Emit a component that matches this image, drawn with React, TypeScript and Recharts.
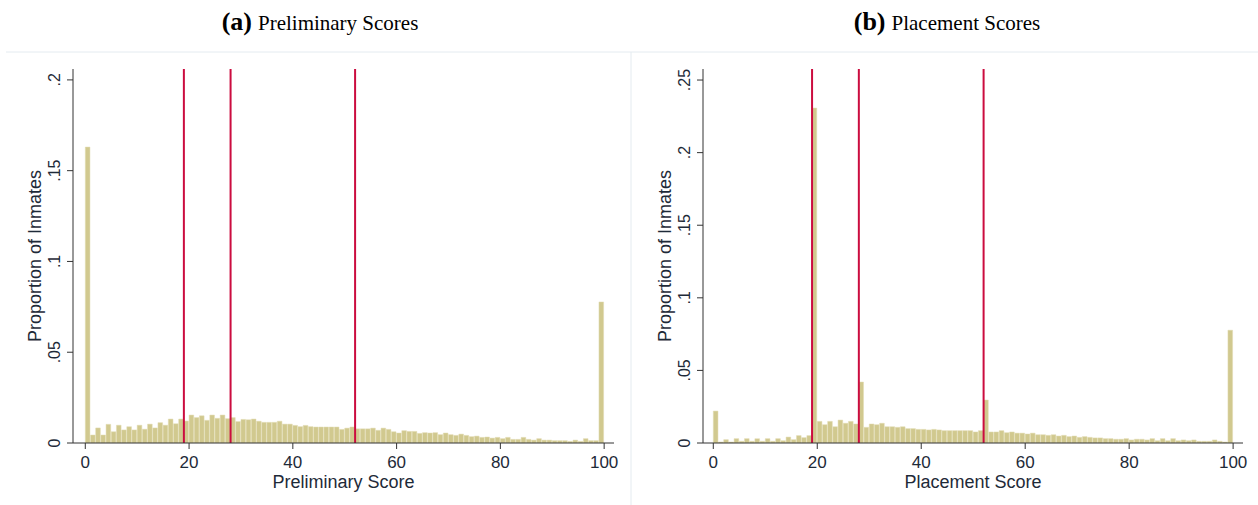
import React from 'react';
import { ComposedChart, Bar, XAxis, YAxis, ReferenceLine } from 'recharts';

// score bins 0..99 (width 1), last bin holds the score-100 mass
const bins = Array.from({ length: 100 }, (_, i) => i);

const prelimShares = [
  0.163, 0.0044, 0.0083, 0.0044, 0.0103, 0.0062, 0.0098, 0.0072, 0.009, 0.0072,
  0.0098, 0.0076, 0.0104, 0.0083, 0.0112, 0.0098, 0.0132, 0.0106, 0.0132, 0.0121,
  0.0154, 0.014, 0.015, 0.0125, 0.0154, 0.0136, 0.0154, 0.0134, 0.014, 0.0118,
  0.013, 0.0128, 0.0132, 0.012, 0.0114, 0.0114, 0.0114, 0.012, 0.0104, 0.0104,
  0.0097, 0.009, 0.0097, 0.009, 0.0088, 0.0088, 0.0088, 0.0088, 0.0088, 0.0075,
  0.0082, 0.0088, 0.0078, 0.0078, 0.0078, 0.0082, 0.007, 0.0082, 0.0075, 0.0062,
  0.0055, 0.0068, 0.0064, 0.0064, 0.0053, 0.0057, 0.0055, 0.0057, 0.0046, 0.0055,
  0.0046, 0.0042, 0.0049, 0.0042, 0.0035, 0.0038, 0.0031, 0.0033, 0.0027, 0.0031,
  0.0024, 0.0031, 0.002, 0.002, 0.0031, 0.002, 0.0016, 0.0024, 0.0016, 0.0016,
  0.0013, 0.0013, 0.0013, 0.0009, 0.0016, 0.0009, 0.0024, 0.0013, 0.0013, 0.0777,
];

const placementShares = [
  0.022, 0.0007, 0.0023, 0.0007, 0.003, 0.0012, 0.003, 0.0012, 0.003, 0.0012,
  0.003, 0.0012, 0.003, 0.0016, 0.0041, 0.0023, 0.0051, 0.0037, 0.0051, 0.2307,
  0.0149, 0.0126, 0.0149, 0.0112, 0.0158, 0.0136, 0.0149, 0.0131, 0.042, 0.0108,
  0.0131, 0.0126, 0.0136, 0.0112, 0.0112, 0.0108, 0.0112, 0.0099, 0.0099, 0.0094,
  0.0094, 0.009, 0.0094, 0.009, 0.0085, 0.0085, 0.0085, 0.0085, 0.0085, 0.0085,
  0.0076, 0.0085, 0.0296, 0.0076, 0.0076, 0.0085, 0.0071, 0.0076, 0.0068, 0.0068,
  0.0062, 0.0068, 0.0057, 0.0057, 0.0053, 0.0057, 0.0048, 0.0053, 0.0044, 0.0048,
  0.0039, 0.0044, 0.0039, 0.0035, 0.0035, 0.003, 0.003, 0.0026, 0.0026, 0.003,
  0.0021, 0.0026, 0.0026, 0.0021, 0.003, 0.0016, 0.003, 0.0016, 0.003, 0.0016,
  0.0021, 0.0016, 0.0021, 0.0012, 0.0012, 0.0012, 0.0021, 0.0012, 0.0007, 0.0777,
];

const cutoffs = [19, 28, 52];
const xTicks = [0, 20, 40, 60, 80, 100];
const prelimYTicks = [0, 0.05, 0.1, 0.15, 0.2];
const placementYTicks = [0, 0.05, 0.1, 0.15, 0.2, 0.25];

const SANS = '"Liberation Sans", Arial, sans-serif';
const SERIF = '"Liberation Serif", "Times New Roman", serif';
const TEXT = '#1e2a38';
const AXIS = '#333333';
const BAR = '#d1c98f';
const CUT = '#cb0c3f';

const fmtY = (v: number) => (v === 0 ? '0' : String(v).replace(/^0/, ''));

type PanelProps = {
  values: number[];
  yTicks: number[];
  yMax: number;
  xMin: number;
  xLabel: string;
  width: number;
  axisW: number;
  right: number;
};

function Panel({ values, yTicks, yMax, xMin, xLabel, width, axisW, right }: PanelProps) {
  const height = 453;
  const top = 17;
  const xAxisH = 50;
  const bottom = height - 391 - xAxisH;
  const xMax = 101.9;
  const plotW = width - axisW - right;
  const unit = plotW / (xMax - xMin);
  const data = bins.map((b, i) => ({ x: b + 0.5, share: values[i] }));

  const yTick = (p: any) => {
    const { y, payload } = p;
    const bx = axisW - 13;
    return (
      <text
        x={bx}
        y={y}
        transform={`rotate(-90, ${bx}, ${y})`}
        textAnchor="middle"
        fontFamily={SANS}
        fontSize={16}
        fill={TEXT}
      >
        {fmtY(payload.value)}
      </text>
    );
  };

  const yTitle = (p: any) => {
    const vb = p.viewBox;
    const bx = axisW - 32;
    const cy = vb.y + vb.height / 2;
    return (
      <text
        x={bx}
        y={cy}
        transform={`rotate(-90, ${bx}, ${cy})`}
        textAnchor="middle"
        fontFamily={SANS}
        fontSize={18}
        fill={TEXT}
      >
        Proportion of Inmates
      </text>
    );
  };

  const xTitle = (p: any) => {
    const vb = p.viewBox;
    return (
      <text
        x={vb.x + vb.width / 2}
        y={vb.y + 45}
        textAnchor="middle"
        fontFamily={SANS}
        fontSize={18}
        fill={TEXT}
      >
        {xLabel}
      </text>
    );
  };

  return (
    <ComposedChart
      width={width}
      height={height}
      data={data}
      margin={{ top, right, left: 0, bottom }}
      barCategoryGap={0}
      barGap={0}
    >
      <XAxis
        dataKey="x"
        type="number"
        domain={[xMin, xMax]}
        ticks={xTicks}
        allowDataOverflow
        height={xAxisH}
        stroke={AXIS}
        tickSize={6}
        tickMargin={7}
        tick={{ fontFamily: SANS, fontSize: 17, fill: TEXT }}
        label={xTitle}
      />
      <YAxis
        type="number"
        domain={[0, yMax]}
        ticks={yTicks}
        allowDataOverflow
        width={axisW}
        stroke={AXIS}
        tickSize={6}
        tick={yTick}
        label={yTitle}
      />
      {cutoffs.map((c) => (
        <ReferenceLine key={c} x={c} stroke={CUT} strokeWidth={2} />
      ))}
      <Bar
        dataKey="share"
        fill={BAR}
        stroke="#e2dcb4"
        strokeWidth={0.5}
        barSize={unit}
        isAnimationActive={false}
      />
    </ComposedChart>
  );
}

export default function App() {
  return (
    <div
      style={{
        position: 'absolute',
        left: 0,
        top: 0,
        width: 1258,
        height: 505,
        background: '#ffffff',
      }}
    >
      <svg width={1258} height={505} style={{ position: 'absolute', left: 0, top: 0 }}>
        <line x1={6} y1={52} x2={1258} y2={52} stroke="#e4ebf0" strokeWidth={1} />
        <line x1={631} y1={52} x2={631} y2={505} stroke="#e4ebf0" strokeWidth={1} />
        <text x={320} y={30} textAnchor="middle" fontFamily={SERIF} fill="#000">
          <tspan fontSize={26} fontWeight="bold">(a)</tspan>
          <tspan fontSize={21} dx={6}>Preliminary Scores</tspan>
        </text>
        <text x={947} y={30} textAnchor="middle" fontFamily={SERIF} fill="#000">
          <tspan fontSize={26} fontWeight="bold">(b)</tspan>
          <tspan fontSize={21} dx={6}>Placement Scores</tspan>
        </text>
      </svg>
      <div style={{ position: 'absolute', left: 0, top: 52 }}>
        <Panel
          values={prelimShares}
          yTicks={prelimYTicks}
          yMax={0.206}
          xMin={-2.37}
          xLabel="Preliminary Score"
          width={630}
          axisW={73}
          right={16}
        />
      </div>
      <div style={{ position: 'absolute', left: 631, top: 52 }}>
        <Panel
          values={placementShares}
          yTicks={placementYTicks}
          yMax={0.2576}
          xMin={-1.98}
          xLabel="Placement Score"
          width={627}
          axisW={72}
          right={15}
        />
      </div>
    </div>
  );
}
